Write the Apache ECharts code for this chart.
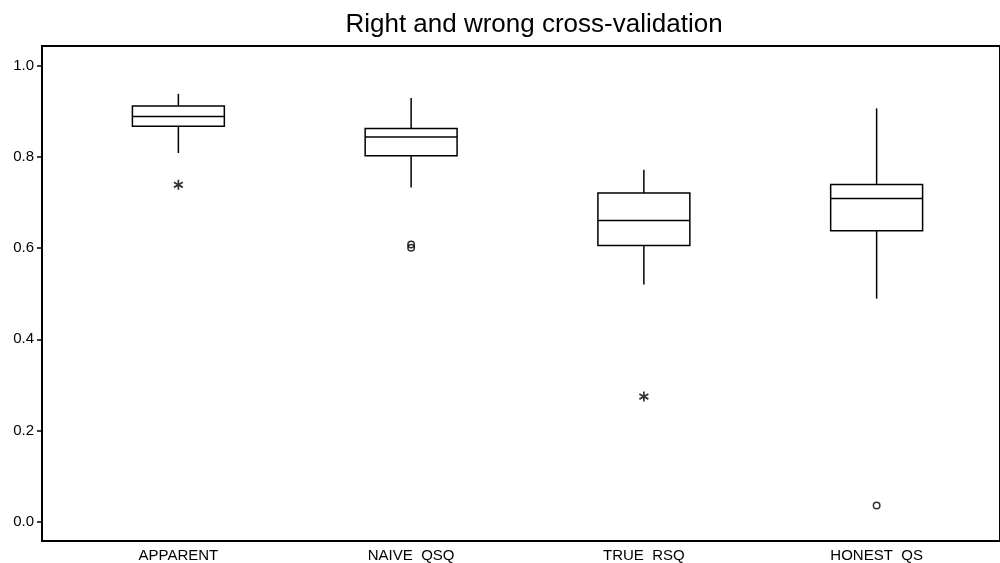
<!DOCTYPE html>
<html lang="en">
<head>
  <meta charset="UTF-8">
  <title>Right and wrong cross-validation</title>
  <style>
    html, body { margin: 0; padding: 0; background: #fff; }
    #main { width: 1000px; height: 563px; }
  </style>
</head>
<body>
  <div id="main"></div>
  <script src="https://cdn.jsdelivr.net/npm/echarts@6/dist/echarts.min.js"></script>
  <script>
    // data
    var categories = ['APPARENT', 'NAIVE  QSQ', 'TRUE  RSQ', 'HONEST  QS'];
    var whiskerLow = [0.808, 0.732, 0.519, 0.488];
    var q1 = [0.867, 0.802, 0.605, 0.637];
    var median = [0.888, 0.843, 0.660, 0.708];
    var q3 = [0.911, 0.862, 0.720, 0.739];
    var whiskerHigh = [0.938, 0.929, 0.771, 0.906];
    var farOutliers = [[0, 0.738], [2, 0.273]];              // drawn as *
    var nearOutliers = [[1, 0.600], [1, 0.607], [3, 0.034]]; // drawn as o
    var yTicks = [0, 0.2, 0.4, 0.6, 0.8, 1.0];

    var yMin = -0.042, yMax = 1.043;
    var font = 'Liberation Sans, Arial, sans-serif';

    var boxData = categories.map(function (c, i) {
      return [i, whiskerLow[i], q1[i], median[i], q3[i], whiskerHigh[i]];
    });

    // box without whisker caps
    function renderBox(params, api) {
      var x = api.value(0);
      var pLow = api.coord([x, api.value(1)]);
      var pQ1 = api.coord([x, api.value(2)]);
      var pMed = api.coord([x, api.value(3)]);
      var pQ3 = api.coord([x, api.value(4)]);
      var pHigh = api.coord([x, api.value(5)]);
      var half = api.size([1, 0])[0] * 0.395 / 2;
      var st = { stroke: '#000', lineWidth: 1.5, fill: null };
      return {
        type: 'group',
        children: [
          { type: 'line', shape: { x1: pHigh[0], y1: pHigh[1], x2: pQ3[0], y2: pQ3[1] }, style: st },
          { type: 'line', shape: { x1: pQ1[0], y1: pQ1[1], x2: pLow[0], y2: pLow[1] }, style: st },
          { type: 'rect', shape: { x: pQ3[0] - half, y: pQ3[1], width: half * 2, height: pQ1[1] - pQ3[1] },
            style: { stroke: '#000', lineWidth: 1.5, fill: '#fff' } },
          { type: 'line', shape: { x1: pMed[0] - half, y1: pMed[1], x2: pMed[0] + half, y2: pMed[1] }, style: st }
        ]
      };
    }

    var myChart = echarts.init(document.getElementById('main'));

    myChart.setOption({
      animation: false,
      backgroundColor: '#fff',
      title: {
        text: 'Right and wrong cross-validation',
        left: 529,
        top: 7,
        textAlign: 'center',
        textStyle: { fontFamily: font, fontSize: 26, fontWeight: 'normal', color: '#000' }
      },
      grid: [
        // frame + y axis
        { left: 42, right: -5, top: 46, bottom: 22, show: true, borderColor: '#000', borderWidth: 2 },
        // boxes
        { left: 62, right: 7, top: 46, bottom: 22 }
      ],
      xAxis: [
        { gridIndex: 0, type: 'value', show: false, min: 0, max: 1 },
        {
          gridIndex: 1, type: 'category', data: categories,
          axisLine: { show: false }, axisTick: { show: false }, splitLine: { show: false },
          axisLabel: { color: '#000', fontFamily: font, fontSize: 15, margin: 8 }
        }
      ],
      yAxis: [
        {
          gridIndex: 0, type: 'value', min: yMin, max: yMax,
          axisLine: { show: false },
          splitLine: { show: false },
          axisTick: { show: true, length: 5, lineStyle: { color: '#000', width: 1.5 }, customValues: yTicks },
          axisLabel: {
            color: '#000', fontFamily: font, fontSize: 15, margin: 8, customValues: yTicks,
            formatter: function (v) { return v.toFixed(1); }
          }
        },
        { gridIndex: 1, type: 'value', min: yMin, max: yMax, show: false }
      ],
      series: [
        {
          type: 'custom',
          xAxisIndex: 1, yAxisIndex: 1,
          renderItem: renderBox,
          encode: { x: 0, y: [1, 2, 3, 4, 5] },
          data: boxData
        },
        {
          type: 'scatter',
          xAxisIndex: 1, yAxisIndex: 1,
          symbol: 'path://M0,-5L0,5M-4.5,-2.6L4.5,2.6M-4.5,2.6L4.5,-2.6',
          symbolSize: [9, 10],
          itemStyle: { color: 'none', borderColor: '#000', borderWidth: 1.8 },
          data: farOutliers
        },
        {
          type: 'scatter',
          xAxisIndex: 1, yAxisIndex: 1,
          symbol: 'circle',
          symbolSize: 6.5,
          itemStyle: { color: 'none', borderColor: '#000', borderWidth: 1.5 },
          data: nearOutliers
        }
      ]
    });
  </script>
</body>
</html>
